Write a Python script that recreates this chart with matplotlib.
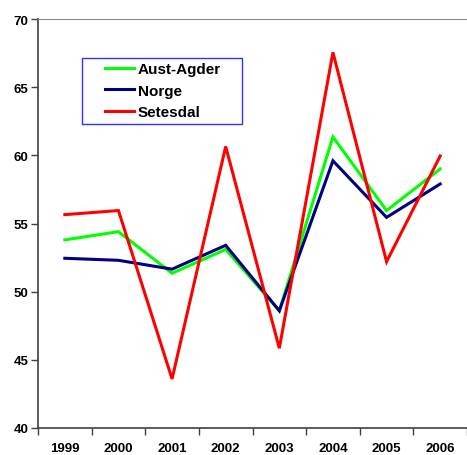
import matplotlib
matplotlib.use("Agg")
import matplotlib.pyplot as plt
from matplotlib.patches import Rectangle

years = ["1999", "2000", "2001", "2002", "2003", "2004", "2005", "2006"]
aust_agder = [53.8, 54.4, 51.35, 53.1, 48.6, 61.35, 55.95, 59.0]
norge = [52.45, 52.3, 51.65, 53.4, 48.6, 59.6, 55.45, 57.9]
setesdal = [55.65, 55.95, 43.6, 60.65, 45.85, 67.55, 52.2, 59.95]

plt.rcParams['font.family'] = ['Liberation Sans', 'DejaVu Sans']

W, H = 467, 456
fig = plt.figure(figsize=(W/100, H/100), dpi=100)
ax = fig.add_axes([38/W, 1-429/H, (467-38)/W, (429-20)/H])

x = [i + 0.5 for i in range(len(years))]
ax.plot(x, aust_agder, color='#00FF00', lw=2.2, label='Aust-Agder', solid_joinstyle='miter')
ax.plot(x, norge, color='#000080', lw=2.2, label='Norge', solid_joinstyle='miter')
ax.plot(x, setesdal, color='#FF0000', lw=2.2, label='Setesdal', solid_joinstyle='miter')

ax.set_xlim(0, len(years))
ax.set_ylim(40, 70)
ax.set_yticks(range(40, 71, 5))
ax.set_xticks(range(0, len(years)+1))
ax.set_xticklabels([])
ax.set_xticks(x, minor=True)
ax.set_xticklabels(years, minor=True)
ax.tick_params(axis='x', which='minor', length=0, pad=10)
ax.tick_params(axis='x', which='major', length=5, width=1, color='#404040', direction='out')
ax.tick_params(axis='y', length=5, width=1, color='#404040', direction='out', pad=2)
for lab in ax.get_yticklabels():
    lab.set_fontweight('bold')
    lab.set_fontsize(9.5)
for lab in ax.get_xticklabels(minor=True):
    lab.set_fontweight('bold')
    lab.set_fontsize(9.5)

ax.spines['left'].set_color('#404040')
ax.spines['bottom'].set_color('#404040')
ax.spines['left'].set_linewidth(1.2)
ax.spines['bottom'].set_linewidth(1.2)
ax.spines['top'].set_color('#8a8a8a')
ax.spines['right'].set_visible(False)

leg = ax.legend(loc='upper left', bbox_to_anchor=(105/W, 1-63/H), bbox_transform=fig.transFigure,
                frameon=False, borderpad=0, borderaxespad=0, handlelength=1.9, handletextpad=0.25,
                labelspacing=0.5, prop={'weight': 'bold', 'size': 11})
fig.patches.append(Rectangle((81.7/W, 1-125.3/H), (242.3-81.7)/W, (125.3-59)/H,
                             transform=fig.transFigure, fill=False, edgecolor='#3030ff', lw=1.0))

fig.savefig('out.png', dpi=100)
